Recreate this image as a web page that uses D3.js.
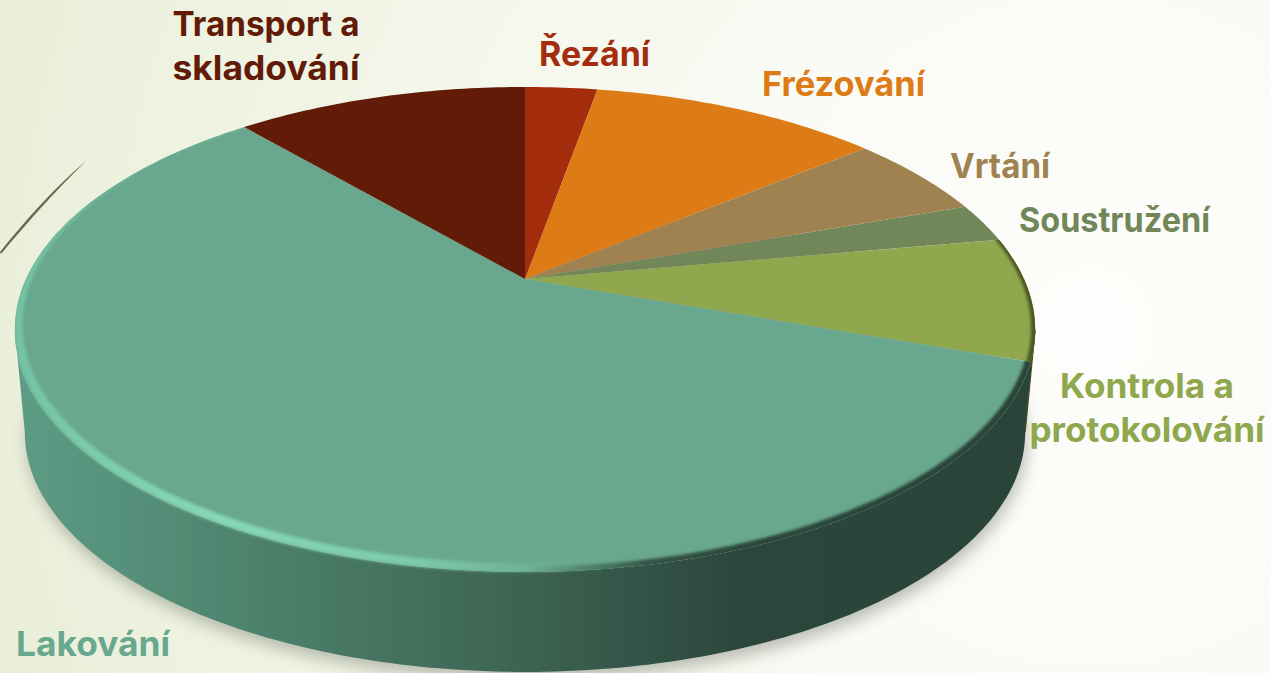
<!DOCTYPE html>
<html><head><meta charset="utf-8">
<script src="https://cdn.jsdelivr.net/npm/d3@7/dist/d3.min.js"></script>
<style>html,body{margin:0;padding:0;width:1271px;height:673px;overflow:hidden;background:#f6f8ef}svg{display:block}</style>
</head><body><svg id="c" width="1271" height="673" xmlns="http://www.w3.org/2000/svg"></svg>
<script>
const categories = ["Řezání","Frézování","Vrtání","Soustružení","Kontrola a protokolování","Lakování","Transport a skladování"];
const values = [2.8,11.2,5.6,2.6,8.2,58.3,11.3];
const colors = ["#a32d0d","#dd7c16","#a08250","#71875a","#8fa74d","#69a88f","#621b07"];
const labelLines = [["Řezání"],["Frézování"],["Vrtání"],["Soustružení"],["Kontrola a","protokolování"],["Lakování"],["Transport a","skladování"]];
const labelX = [594.5,843.5,1000,1114.5,1147,93,266];
const labelY = [66,96,178,232,398,656,36];
const labelWidths = [[111],[163],[100],[191],[174,235],[154],[187,187]];

const svg = d3.select("#c");
const W=1271,H=673;
const defs = svg.append("defs");

// background
const bg = defs.append("radialGradient").attr("id","bg").attr("gradientUnits","userSpaceOnUse")
  .attr("cx",1090).attr("cy",330).attr("r",1150);
[[0,"#fdfdfb"],[.3,"#fafbf6"],[.6,"#f4f7ea"],[1,"#e9eed8"]].forEach(s=>bg.append("stop").attr("offset",s[0]).attr("stop-color",s[1]));
svg.append("rect").attr("width",W).attr("height",H).attr("fill","url(#bg)");

// perspective of the disc
const cx=525, cy=279, a=232, b=499, k=0.208;
const project=(ang)=>{ const u=Math.sin(ang), v=Math.cos(ang), d=1+k*v; return [cx+b*u/d, cy-a*v/d]; };
const midY=329, botY=432, sx=500/510, sy=240/243;
const projectBottom=(ang)=>{ const p=project(ang); return [cx+(p[0]-cx)*sx, botY+(p[1]-midY)*sy]; };
const samples=(a0,a1,n=160)=>d3.range(n+1).map(i=>a0+(a1-a0)*i/n);
const line=d3.line();

// pie layout
const arcs=d3.pie().sort(null).startAngle(0).endAngle(2*Math.PI)(values);
const rimStart=Math.acos(-k), rimEnd=2*Math.PI-rimStart;

const facePts=samples(0,2*Math.PI,360).map(project);
const bottomPts=samples(0,2*Math.PI,360).map(projectBottom);
const wallPts=samples(rimStart,rimEnd).map(project).concat(samples(rimEnd,rimStart).map(projectBottom));

// shadow
const sh=defs.append("filter").attr("id","sh").attr("x","-10%").attr("y","-10%").attr("width","120%").attr("height","125%");
sh.append("feGaussianBlur").attr("stdDeviation",8);
svg.append("path").attr("d",line(bottomPts.map(p=>[p[0]+2,p[1]+8]))+"Z").attr("fill","#7d8276").attr("opacity",.5).attr("filter","url(#sh)");

// wall
const wg=defs.append("linearGradient").attr("id","wall").attr("gradientUnits","userSpaceOnUse").attr("x1",15).attr("x2",1035).attr("y1",0).attr("y2",0);
[[0,"#5d9c85"],[.12,"#558f79"],[.3,"#497a66"],[.48,"#3e6654"],[.62,"#335346"],[.72,"#2b463b"],[1,"#2a4439"]].forEach(s=>wg.append("stop").attr("offset",s[0]).attr("stop-color",s[1]));
svg.append("path").attr("d",line(wallPts)+"Z").attr("fill","url(#wall)");

// narrow olive wall below the Kontrola slice
const kArc=arcs[4];
svg.append("path").attr("d",line(samples(rimStart,kArc.endAngle,20).map(project).concat(samples(kArc.endAngle,rimStart,20).map(p=>{const q=project(p);return [q[0]-1,q[1]+9];})))+"Z").attr("fill","#47501f");
svg.append("path").attr("d",line([project(rimStart),projectBottom(rimStart)])).attr("stroke","#47501f").attr("stroke-width",1.2).attr("fill","none");

// slices
const slicePts=d=>[[cx,cy]].concat(samples(d.startAngle,d.endAngle,Math.max(8,Math.round((d.endAngle-d.startAngle)*60))).map(project));
svg.append("g").selectAll("path").data(arcs).join("path")
  .attr("d",d=>line(slicePts(d))+"Z").attr("fill",(d,i)=>colors[i]);

// bevels
const blur=defs.append("filter").attr("id","bl").attr("x","-5%").attr("y","-5%").attr("width","110%").attr("height","110%");
blur.append("feGaussianBlur").attr("stdDeviation",1.8);
const clipLight=defs.append("clipPath").attr("id","clipLight");
clipLight.append("path").attr("d",line(slicePts(arcs[5]))+"Z");
clipLight.append("path").attr("d",line(wallPts)+"Z");
defs.append("clipPath").attr("id","clipLak").append("path").attr("d",line(slicePts(arcs[5]))+"Z");
defs.append("clipPath").attr("id","clipKon").append("path").attr("d",line(slicePts(arcs[4]))+"Z");

const ring=(outerScale,innerScale,innerShift)=>{
  const o=facePts.map(p=>[cx+(p[0]-cx)*outerScale, midY+(p[1]-midY)*outerScale]);
  const n=facePts.map(p=>[cx+(p[0]-cx)*innerScale, midY+innerShift+(p[1]-midY)*innerScale]);
  return line(o)+"Z"+line(n)+"Z";
};
// light bevel, left part
const gl=defs.append("linearGradient").attr("id","bevL").attr("gradientUnits","userSpaceOnUse").attr("x1",15).attr("x2",1035).attr("y1",0).attr("y2",0);
[[0,"#74c3a3",1],[.2,"#86d8b6",1],[.4,"#7cc9aa",1],[.5,"#72b89c",.7],[.58,"#69a88f",0],[1,"#69a88f",0]].forEach(s=>gl.append("stop").attr("offset",s[0]).attr("stop-color",s[1]).attr("stop-opacity",s[2]));
svg.append("g").attr("clip-path","url(#clipLight)").append("path").attr("d",ring(1,.985,-5)).attr("fill-rule","evenodd").attr("fill","url(#bevL)").attr("filter","url(#bl)");
// dark soft edge, right part
const gd=defs.append("linearGradient").attr("id","bevD").attr("gradientUnits","userSpaceOnUse").attr("x1",15).attr("x2",1035).attr("y1",0).attr("y2",0);
[[0,"#3e6654",0],[.5,"#3e6654",0],[.62,"#335346",1],[.72,"#2b463b",1],[1,"#2a4439",1]].forEach(s=>gd.append("stop").attr("offset",s[0]).attr("stop-color",s[1]).attr("stop-opacity",s[2]));
svg.append("g").attr("clip-path","url(#clipLak)").append("path").attr("d",ring(1.03,.99,-3)).attr("fill-rule","evenodd").attr("fill","url(#bevD)").attr("filter","url(#bl)");
svg.append("g").attr("clip-path","url(#clipKon)").append("path").attr("d",ring(1.03,.992,-1)).attr("fill-rule","evenodd").attr("fill","#4a5422").attr("filter","url(#bl)");

// thin stem at left
svg.append("path").attr("d","M0,252C24,222 54,188 87,160C56,190 26,224 1,254Z").attr("fill","#6f6850");

// labels
const lab=svg.append("g").attr("font-family","'Inter',sans-serif").attr("font-weight",700).attr("font-size",34).attr("text-anchor","middle");
labelLines.forEach((ls,i)=>{
  ls.forEach((l,j)=>lab.append("text").attr("fill",colors[i]).attr("x",labelX[i]).attr("y",labelY[i]+j*44)
    .attr("textLength",labelWidths[i][j]).attr("lengthAdjust","spacingAndGlyphs").text(l));
});
</script></body></html>
